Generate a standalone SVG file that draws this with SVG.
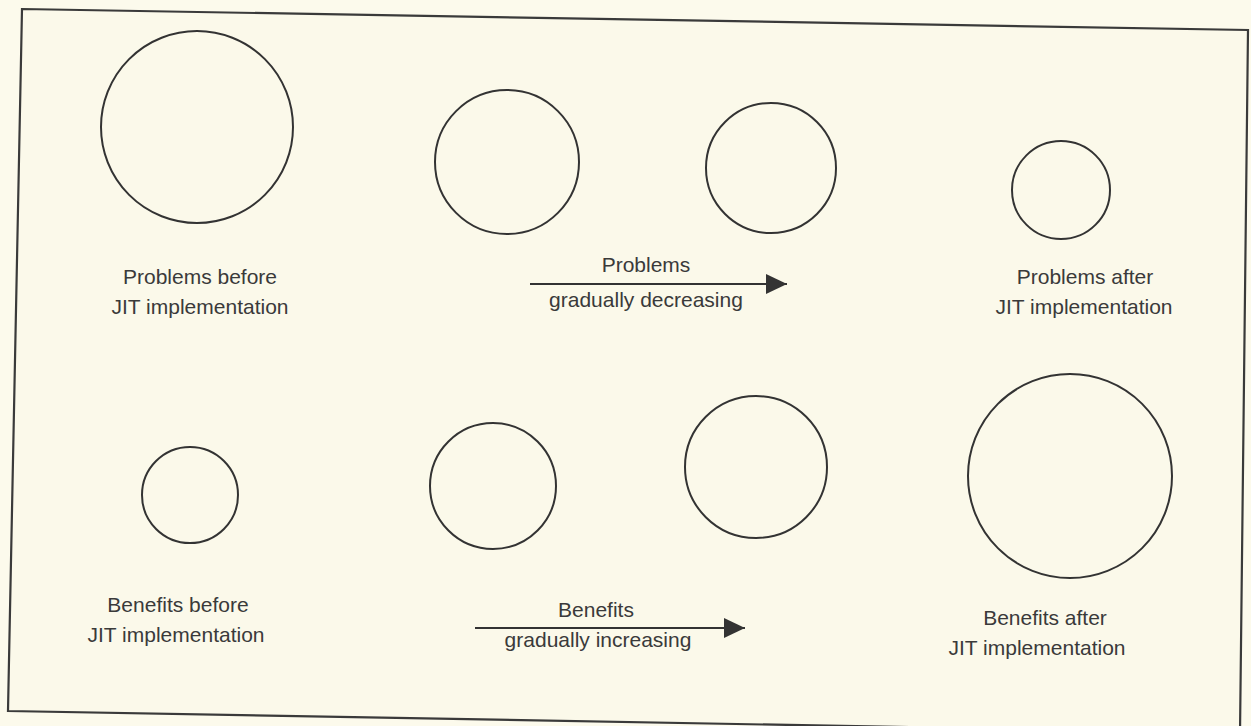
<svg xmlns="http://www.w3.org/2000/svg" width="1251" height="726" viewBox="0 0 1251 726">
<style>
.bg{fill:#fcfaec}
.frame{fill:#fbf9ea;stroke:#3a3a3a;stroke-width:2.2}
.c{fill:none;stroke:#333;stroke-width:2}
.t{font-family:"Liberation Sans",Arial,sans-serif;font-size:21px;fill:#3a3a3a;text-anchor:middle}
.arr{stroke:#333;stroke-width:2;fill:none}
</style>
<defs>
<marker id="ah" markerWidth="22" markerHeight="20" refX="21" refY="10" orient="auto" markerUnits="userSpaceOnUse">
<path d="M0,0 L21,10 L0,20 Z" fill="#333"/>
</marker>
</defs>
<rect class="bg" x="0" y="0" width="1251" height="726"/>
<polygon class="frame" points="22,9 1248,30 1240,733 8,711"/>
<g id="problems-before">
<circle class="c" cx="197" cy="127" r="96"/>
<text class="t" x="200" y="284">Problems before</text>
<text class="t" x="200" y="314">JIT implementation</text>
</g>
<g id="problems-mid1"><circle class="c" cx="507" cy="162" r="72"/></g>
<g id="problems-mid2"><circle class="c" cx="771" cy="168" r="65"/></g>
<g id="problems-after">
<circle class="c" cx="1061" cy="190" r="49"/>
<text class="t" x="1085" y="284">Problems after</text>
<text class="t" x="1084" y="314">JIT implementation</text>
</g>
<g id="benefits-before">
<circle class="c" cx="190" cy="495" r="48"/>
<text class="t" x="178" y="612">Benefits before</text>
<text class="t" x="176" y="642">JIT implementation</text>
</g>
<g id="benefits-mid1"><circle class="c" cx="493" cy="486" r="63"/></g>
<g id="benefits-mid2"><circle class="c" cx="756" cy="467" r="71"/></g>
<g id="benefits-after">
<circle class="c" cx="1070" cy="476" r="102"/>
<text class="t" x="1045" y="625">Benefits after</text>
<text class="t" x="1037" y="655">JIT implementation</text>
</g>
<g id="connectors">
<line class="arr" x1="530" y1="284" x2="787" y2="284" marker-end="url(#ah)"/>
<text class="t" x="646" y="272">Problems</text>
<text class="t" x="646" y="307">gradually decreasing</text>
<line class="arr" x1="475" y1="628" x2="745" y2="628" marker-end="url(#ah)"/>
<text class="t" x="596" y="617">Benefits</text>
<text class="t" x="598" y="647">gradually increasing</text>
</g>
</svg>
